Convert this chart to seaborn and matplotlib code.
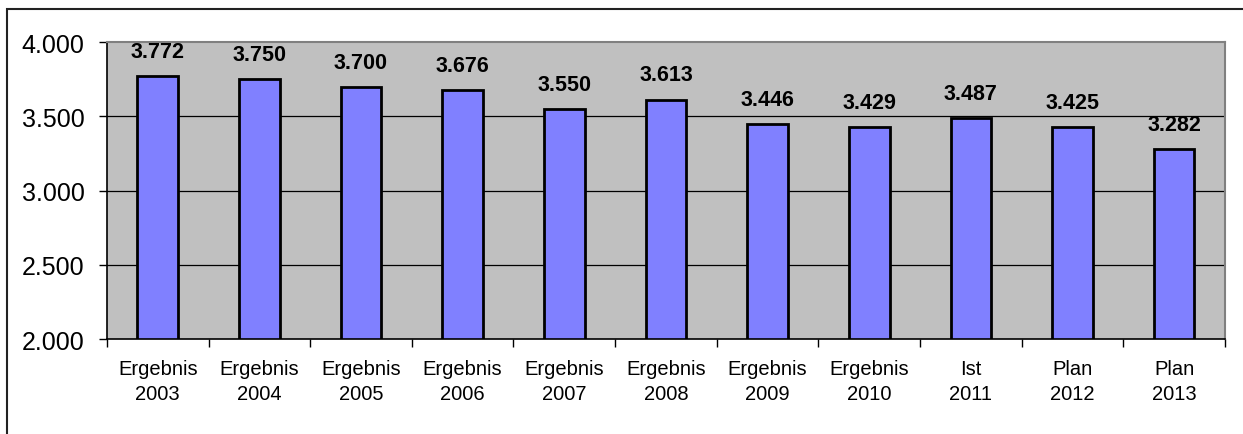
import pandas as pd
import matplotlib.pyplot as plt
import seaborn as sns
from matplotlib.patches import Rectangle
from matplotlib.ticker import FuncFormatter, FixedLocator

# Data
labels = ['Ergebnis\n2003', 'Ergebnis\n2004', 'Ergebnis\n2005', 'Ergebnis\n2006',
          'Ergebnis\n2007', 'Ergebnis\n2008', 'Ergebnis\n2009', 'Ergebnis\n2010',
          'Ist\n2011', 'Plan\n2012', 'Plan\n2013']
values = [3772, 3750, 3700, 3676, 3550, 3613, 3446, 3429, 3487, 3425, 3282]

df = pd.DataFrame({'Jahr': labels, 'Wert': values})

sns.set_style('white')
plt.rcParams['font.family'] = ['Liberation Sans', 'DejaVu Sans']

def de_fmt(v, pos=None):
    return f"{int(v):,}".replace(',', '.')

fig = plt.figure(figsize=(12.43, 4.35), dpi=100)
ax = fig.add_axes([0.086, 0.218, 0.8995, 0.683])
ax.set_facecolor('#C0C0C0')

sns.barplot(data=df, x='Jahr', y='Wert', color='#8080FF', edgecolor='black',
            linewidth=2, width=0.4, saturation=1, ax=ax)

ax.set_ylim(2000, 4000)
ax.set_xlim(-0.5, len(labels) - 0.5)
ax.set_yticks([2000, 2500, 3000, 3500, 4000])
ax.yaxis.set_major_formatter(FuncFormatter(de_fmt))
ax.set_xlabel('')
ax.set_ylabel('')

for y in [2500, 3000, 3500]:
    ax.axhline(y, color='black', linewidth=0.9, zorder=0.5)

for i, v in enumerate(values):
    ax.text(i, v + 95, de_fmt(v), ha='center', va='bottom',
            fontsize=15.5, fontweight='bold', color='black')

ax.tick_params(axis='y', labelsize=18, length=6, width=1, direction='out',
               left=True, color='black', pad=10, labelcolor='black')
ax.tick_params(axis='x', labelsize=14.5, length=0, pad=14, labelcolor='black')
for t in ax.get_xticklabels():
    t.set_linespacing(1.45)
ax.xaxis.set_minor_locator(FixedLocator([i - 0.5 for i in range(len(labels) + 1)]))
ax.tick_params(axis='x', which='minor', length=6, width=1, direction='out',
               bottom=True, color='black')

for s in ['left', 'bottom']:
    ax.spines[s].set_color('black')
    ax.spines[s].set_linewidth(1.2)
for s in ['top', 'right']:
    ax.spines[s].set_color('#808080')
    ax.spines[s].set_linewidth(1.5)

# outer frame of the chart
fig.add_artist(Rectangle((7 / 1243, -0.1), 1.2, (425 / 435) + 0.1,
                         transform=fig.transFigure, fill=False,
                         edgecolor='#222222', linewidth=1.5))

plt.savefig('out.png', dpi=100)
